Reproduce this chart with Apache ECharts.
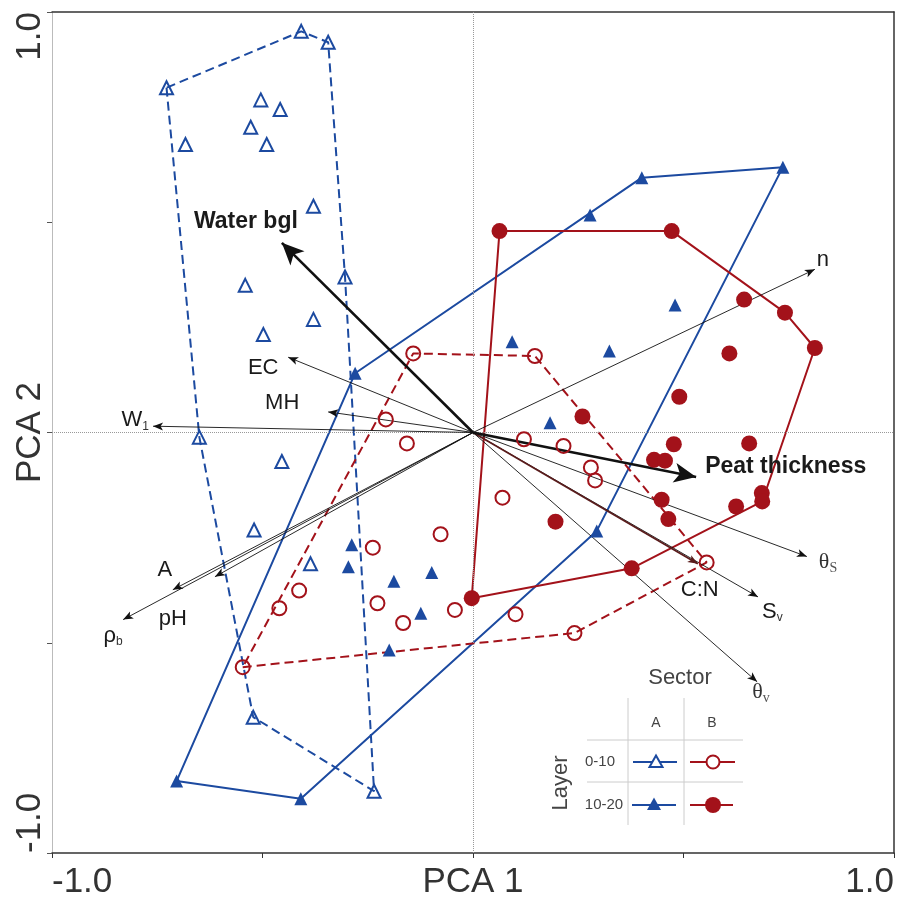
<!DOCTYPE html>
<html><head><meta charset="utf-8">
<script src="https://cdn.jsdelivr.net/npm/echarts@6/dist/echarts.min.js"></script>
<style>html,body{margin:0;padding:0;background:#fff}#c{width:898px;height:899px}</style>
</head><body><div id="c"></div>
<script>
// ---------- DATA ----------
// Sector A, layer 0-10 cm (open triangles)
const sectorA_layer0_10 = [[-0.408,0.954],[-0.344,0.928],[-0.728,0.820],[-0.683,0.685],[-0.504,0.791],[-0.458,0.768],[-0.528,0.726],[-0.490,0.685],[-0.379,0.538],[-0.304,0.370],[-0.541,0.350],[-0.379,0.269],[-0.498,0.233],[-0.650,-0.011],[-0.454,-0.069],[-0.520,-0.232],[-0.386,-0.312],[-0.522,-0.677],[-0.235,-0.853]];
// Sector A, layer 10-20 cm (filled triangles)
const sectorA_layer10_20 = [[0.736,0.631],[0.401,0.606],[0.278,0.517],[0.480,0.303],[0.093,0.216],[0.324,0.194],[0.183,0.023],[-0.280,0.141],[0.294,-0.234],[-0.288,-0.267],[-0.296,-0.319],[-0.188,-0.354],[-0.098,-0.333],[-0.124,-0.430],[-0.199,-0.517],[-0.704,-0.829],[-0.409,-0.871]];
// Sector B, layer 0-10 cm (open circles)
const sectorB_layer0_10 = [[-0.142,0.188],[0.147,0.182],[-0.207,0.031],[-0.157,-0.026],[0.121,-0.016],[0.215,-0.032],[0.280,-0.083],[0.290,-0.114],[0.070,-0.155],[0.555,-0.309],[0.101,-0.432],[0.241,-0.477],[-0.043,-0.422],[-0.077,-0.242],[-0.238,-0.274],[-0.227,-0.406],[-0.166,-0.453],[-0.413,-0.376],[-0.460,-0.418],[-0.547,-0.558]];
// Sector B, layer 10-20 cm (filled circles)
const sectorB_layer10_20 = [[0.063,0.479],[0.472,0.479],[0.644,0.316],[0.741,0.285],[0.812,0.201],[0.609,0.188],[0.490,0.085],[0.260,0.038],[0.477,-0.028],[0.656,-0.026],[0.430,-0.065],[0.456,-0.067],[0.448,-0.160],[0.464,-0.206],[0.196,-0.212],[0.625,-0.176],[0.686,-0.144],[0.687,-0.164],[0.377,-0.323],[-0.003,-0.394]];

// Variable loadings (arrows)
const loadingNames  = ['Water bgl','Peat thickness','n','EC','MH','W1','A','pH','ρb','θS','Sv','C:N','θv'];
const loadingLabels = ['Water bgl','Peat thickness','n','EC','MH','W{sub|1}','A','pH','ρ{sub|b}','θ{ssub|S}','S{sub|v}','C:N','θ{ssub|v}'];
const loadingPC1 = [-0.454, 0.530, 0.812,-0.439,-0.344,-0.760,-0.713,-0.613,-0.831, 0.793, 0.677, 0.534, 0.675];
const loadingPC2 = [ 0.451,-0.106, 0.388, 0.179, 0.049, 0.015,-0.374,-0.343,-0.445,-0.295,-0.391,-0.312,-0.593];
const boldLoadings = ['Water bgl','Peat thickness'];

const axisTickLabels = {'-1':'-1.0','1':'1.0'};
const axisNames = {x:'PCA 1', y:'PCA 2'};
const legendTitle = 'Sector', legendRowTitle = 'Layer';
const legendCols = ['A','B'], legendRows = ['0-10','10-20'];

// ---------- STYLE ----------
const BLUE = '#1c4aa0', RED = '#a3121a';
const SANS = "'Liberation Sans', Arial, sans-serif";
const SERIF = "'Liberation Serif', 'Times New Roman', serif";
const labelStyle = {
  'Water bgl':      {align:'center', offset:[-36,-21], bold:true},
  'Peat thickness': {align:'left',   offset:[9,-10],   bold:true},
  'n':   {align:'left',   offset:[2,-9]},
  'EC':  {align:'center', offset:[-25,11]},
  'MH':  {align:'center', offset:[-46,-9]},
  'W1':  {align:'right',  offset:[-4,-6]},
  'A':   {align:'center', offset:[-8,-20]},
  'pH':  {align:'center', offset:[-42,42]},
  'ρb':  {align:'center', offset:[-10,16]},
  'θS':  {align:'left',   offset:[12,6], serif:true},
  'Sv':  {align:'left',   offset:[4,15]},
  'C:N': {align:'center', offset:[2,26]},
  'θv':  {align:'left',   offset:[-5,10], serif:true}
};
const arrowColor = {'C:N':'#5a1c1c'};

function convexHull(pts){
  const p = pts.slice().sort((a,b)=>a[0]-b[0]||a[1]-b[1]);
  const cross=(o,a,b)=>(a[0]-o[0])*(b[1]-o[1])-(a[1]-o[1])*(b[0]-o[0]);
  const lower=[],upper=[];
  for(const q of p){while(lower.length>=2&&cross(lower[lower.length-2],lower[lower.length-1],q)<=0)lower.pop();lower.push(q);}
  for(let i=p.length-1;i>=0;i--){const q=p[i];while(upper.length>=2&&cross(upper[upper.length-2],upper[upper.length-1],q)<=0)upper.pop();upper.push(q);}
  upper.pop();lower.pop();
  const h=lower.concat(upper);h.push(h[0]);return h;
}

function hullSeries(pts,color,dashed){
  return {type:'line',data:convexHull(pts),showSymbol:false,silent:true,z:2,
    lineStyle:{color:color,width:2,opacity:1,type:dashed?[9,5]:'solid'}};
}
function pointSeries(pts,symbol,color,open,size){
  return {type:'scatter',data:pts,symbol:symbol,symbolSize:size,silent:true,z:5,
    itemStyle: open?{color:'rgba(255,255,255,0)',borderColor:color,borderWidth:2,opacity:1}:{color:color,opacity:1}};
}
function arrowLines(bold){
  const d=[];
  loadingNames.forEach((n,i)=>{
    const isBold = boldLoadings.indexOf(n)>=0;
    if(isBold!==bold) return;
    d.push([{coord:[0,0],symbol:'none'},{coord:[loadingPC1[i],loadingPC2[i]],symbol:'arrow',
      lineStyle:{color:arrowColor[n]||'#111',width:bold?2.6:(arrowColor[n]?1.8:0.9),type:'solid',opacity:1}}]);
  });
  return d;
}

const chart = echarts.init(document.getElementById('c'),null,{renderer:'canvas'});
const tickFmt = v => axisTickLabels[String(v)] || '';

const option = {
  animation:false,
  grid:{left:52,right:4,top:12,bottom:46,containLabel:false,outerBoundsMode:'none'},
  xAxis:[{type:'value',min:-1,max:1,interval:0.5,
      axisLine:{show:true,onZero:false,lineStyle:{color:'#333',width:1.5}},
      axisTick:{show:true,length:5,lineStyle:{color:'#333'}},
      splitLine:{show:false},
      axisLabel:{formatter:tickFmt,fontSize:35,color:'#333',fontFamily:SANS,margin:12,alignMinLabel:'left',alignMaxLabel:'right'},
      name:axisNames.x,nameLocation:'middle',nameGap:12,nameMoveOverlap:false,
      nameTextStyle:{fontSize:35,color:'#333',fontFamily:SANS,verticalAlign:'top'}},
    {type:'value',min:-1,max:1,position:'top',axisLine:{show:true,onZero:false,lineStyle:{color:'#333',width:1.5}},
      axisTick:{show:false},axisLabel:{show:false},splitLine:{show:false}}],
  yAxis:[{type:'value',min:-1,max:1,interval:0.5,
      axisLine:{show:true,onZero:false,lineStyle:{color:'#bbb',width:1}},
      axisTick:{show:true,length:5,lineStyle:{color:'#555'}},
      splitLine:{show:false},
      axisLabel:{formatter:tickFmt,fontSize:35,color:'#333',fontFamily:SANS,margin:4,rotate:90,alignMinLabel:'left',alignMaxLabel:'right'},
      name:axisNames.y,nameLocation:'middle',nameGap:4,nameMoveOverlap:false,
      nameTextStyle:{fontSize:35,color:'#333',fontFamily:SANS}},
    {type:'value',min:-1,max:1,position:'right',axisLine:{show:true,onZero:false,lineStyle:{color:'#333',width:1.5}},
      axisTick:{show:false},axisLabel:{show:false},splitLine:{show:false}}],
  series:[
    {type:'line',data:[],silent:true,z:1,
      markLine:{silent:true,symbol:'none',label:{show:false},animation:false,
        lineStyle:{type:'dotted',color:'#999',width:1},data:[{xAxis:0},{yAxis:0}]}},
    hullSeries(sectorA_layer0_10,BLUE,true),
    hullSeries(sectorA_layer10_20,BLUE,false),
    hullSeries(sectorB_layer0_10,RED,true),
    hullSeries(sectorB_layer10_20,RED,false),
    {type:'scatter',data:[],silent:true,z:3,
      markLine:{silent:true,symbolSize:[6,10],label:{show:false},animation:false,data:arrowLines(false)}},
    {type:'scatter',data:[],silent:true,z:4,
      markLine:{silent:true,symbolSize:[15,22],label:{show:false},animation:false,data:arrowLines(true)}},
    pointSeries(sectorA_layer0_10,'triangle',BLUE,true,13),
    pointSeries(sectorA_layer10_20,'triangle',BLUE,false,13),
    pointSeries(sectorB_layer0_10,'circle',RED,true,14),
    pointSeries(sectorB_layer10_20,'circle',RED,false,16),
    {type:'scatter',silent:true,z:6,symbolSize:1,itemStyle:{color:'rgba(0,0,0,0)'},
      data:loadingNames.map((n,i)=>{
        const s=labelStyle[n];
        return {value:[loadingPC1[i],loadingPC2[i]],
          label:{show:true,position:'inside',align:s.align,verticalAlign:'middle',offset:s.offset,
            formatter:loadingLabels[i],opacity:1,
            fontSize:s.bold?23:22,fontWeight:s.bold?'bold':'normal',
            fontFamily:s.serif?SERIF:SANS,color:s.serif?'#333':'#1a1a1a',
            rich:{sub:{fontSize:12,fontFamily:SANS,color:'#333',padding:[12,0,0,0]},
                  ssub:{fontSize:14,fontFamily:SERIF,color:'#555',padding:[12,0,0,0]}}}};
      })}
  ],
  graphic:[
    {type:'text',x:680,y:678,style:{text:legendTitle,fontSize:22,fill:'#444',fontFamily:SANS,textAlign:'center',textVerticalAlign:'middle'}},
    {type:'text',x:561,y:783,rotation:Math.PI/2,style:{text:legendRowTitle,fontSize:22,fill:'#444',fontFamily:SANS,textAlign:'center',textVerticalAlign:'middle'}},
    {type:'line',shape:{x1:628,y1:698,x2:628,y2:825},style:{stroke:'#ccc',lineWidth:1}},
    {type:'line',shape:{x1:684,y1:698,x2:684,y2:825},style:{stroke:'#ccc',lineWidth:1}},
    {type:'line',shape:{x1:587,y1:740,x2:743,y2:740},style:{stroke:'#ccc',lineWidth:1}},
    {type:'line',shape:{x1:587,y1:782,x2:743,y2:782},style:{stroke:'#ccc',lineWidth:1}},
    {type:'text',x:656,y:723,style:{text:legendCols[0],fontSize:14,fill:'#444',fontFamily:SANS,textAlign:'center',textVerticalAlign:'middle'}},
    {type:'text',x:712,y:723,style:{text:legendCols[1],fontSize:14,fill:'#444',fontFamily:SANS,textAlign:'center',textVerticalAlign:'middle'}},
    {type:'text',x:600,y:762,style:{text:legendRows[0],fontSize:15,fill:'#444',fontFamily:SANS,textAlign:'center',textVerticalAlign:'middle'}},
    {type:'text',x:604,y:805,style:{text:legendRows[1],fontSize:15,fill:'#444',fontFamily:SANS,textAlign:'center',textVerticalAlign:'middle'}},
    {type:'line',shape:{x1:633,y1:762,x2:677,y2:762},style:{stroke:BLUE,lineWidth:2}},
    {type:'polygon',shape:{points:[[656,755.5],[662.5,767],[649.5,767]]},style:{fill:'#fff',stroke:BLUE,lineWidth:2}},
    {type:'line',shape:{x1:690,y1:762,x2:735,y2:762},style:{stroke:RED,lineWidth:2}},
    {type:'circle',shape:{cx:713,cy:762,r:6.5},style:{fill:'#fff',stroke:RED,lineWidth:2}},
    {type:'line',shape:{x1:632,y1:805,x2:676,y2:805},style:{stroke:BLUE,lineWidth:2}},
    {type:'polygon',shape:{points:[[654,797.5],[661,810],[647,810]]},style:{fill:BLUE}},
    {type:'line',shape:{x1:690,y1:805,x2:733,y2:805},style:{stroke:RED,lineWidth:2}},
    {type:'circle',shape:{cx:713,cy:805,r:8},style:{fill:RED}}
  ]
};
chart.setOption(option);
</script></body></html>
